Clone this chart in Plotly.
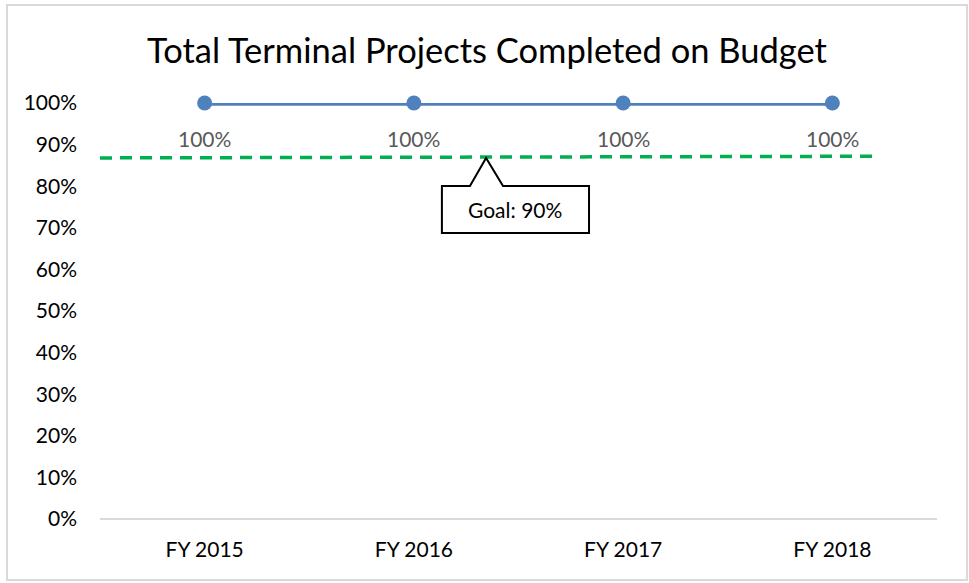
import plotly.graph_objects as go

# chart data
categories = ["FY 2015", "FY 2016", "FY 2017", "FY 2018"]
on_budget = [1.0, 1.0, 1.0, 1.0]
goal_x = [-0.5, 3.2]          # extent of the drawn goal line (category units)
goal_y = [0.868, 0.872]       # drawn goal line sits slightly under 90%
goal_label = "Goal: 90%"
y_ticks = [i / 10 for i in range(11)]

FONT = "Lato"
xs = list(range(len(categories)))

fig = go.Figure()

fig.add_trace(go.Scatter(
    x=xs, y=on_budget, mode="lines+markers",
    line=dict(color="#4F81BD", width=5.5),
    marker=dict(color="#4F81BD", size=15),
    cliponaxis=False, showlegend=False, hoverinfo="skip"))

fig.add_trace(go.Scatter(
    x=goal_x, y=goal_y, mode="lines",
    line=dict(color="#00B050", width=3.5, dash="12px,8px"),
    cliponaxis=False, showlegend=False, hoverinfo="skip"))

# data labels under each point
for x, v in zip(xs, on_budget):
    fig.add_annotation(x=x, y=v, text=f"{v:.0%}", showarrow=False,
                       yshift=-35, font=dict(family=FONT, size=21, color="#595959"))

# callout box with pointer to the goal line
fig.add_shape(type="path", xref="x", yref="y",
              path="M 1.134 0.8005 L 1.268 0.8005 L 1.345 0.868 L 1.426 0.8005 "
                   "L 1.837 0.8005 L 1.837 0.6875 L 1.134 0.6875 Z",
              line=dict(color="black", width=2), fillcolor="white", layer="above")
fig.add_annotation(x=1.4855, y=0.744, text=goal_label, showarrow=False,
                   font=dict(family=FONT, size=21, color="black"))

# outer chart border
fig.add_shape(type="rect", xref="paper", yref="paper",
              x0=-0.1111, x1=1.0358, y0=-0.1466, y1=1.2356,
              line=dict(color="#D9D9D9", width=2), layer="below")

fig.update_layout(
    width=969, height=583,
    margin=dict(l=100, r=32, t=103, b=64),
    paper_bgcolor="white", plot_bgcolor="white",
    font=dict(family=FONT, color="black"),
    title=dict(text="Total Terminal Projects Completed on Budget",
               x=0.5026, xref="container", xanchor="center",
               y=1 - 51 / 583, yref="container", yanchor="middle",
               font=dict(family=FONT, size=34.5, color="black")),
)
fig.update_xaxes(range=[-0.5, 3.5], tickvals=xs, ticktext=categories,
                 showgrid=False, zeroline=False, showline=False, ticks="",
                 ticklabelstandoff=16, tickfont=dict(family=FONT, size=21, color="black"))
fig.update_yaxes(range=[0, 1], tickvals=y_ticks, tickformat=".0%",
                 showgrid=False, zeroline=True, zerolinecolor="#D9D9D9", zerolinewidth=2,
                 showline=False, ticks="", ticklabelstandoff=22,
                 tickfont=dict(family=FONT, size=21, color="black"))

fig.write_html("out.html", config={"displayModeBar": False},
               post_script="document.body.style.margin='0px';")
